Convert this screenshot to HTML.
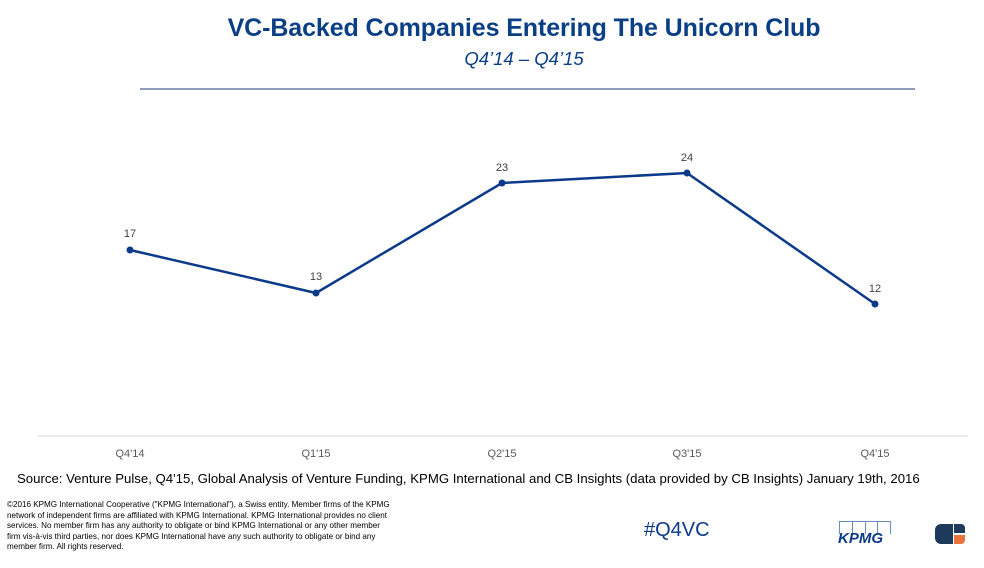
<!DOCTYPE html>
<html><head><meta charset="utf-8"><style>
body{margin:0;width:984px;height:568px;background:#fff;overflow:hidden;font-family:"Liberation Sans",Arial,sans-serif;position:relative}
.t{position:absolute;left:0;width:1048px;text-align:center;color:#0a3f86}
</style></head><body>
<div class="t" style="top:14px;font-size:25px;font-weight:bold;letter-spacing:-0.1px">VC-Backed Companies Entering The Unicorn Club</div>
<div class="t" style="top:48px;font-size:18.5px;font-style:italic">Q4’14 – Q4’15</div>
<div style="position:absolute;left:140px;top:88px;width:775px;height:2px;background:#8e9cba"></div>
<svg width="984" height="568" style="position:absolute;left:0;top:0">
<line x1="38" y1="436" x2="968" y2="436" stroke="#d9d9d9" stroke-width="1"/>
<polyline points="130,250 316,293 502,183 687,173 875,304" fill="none" stroke="#0c3a8a" stroke-width="2.5"/>
<g fill="#0c3a8a"><circle cx="130" cy="250" r="3.5"/><circle cx="316" cy="293" r="3.5"/><circle cx="502" cy="183" r="3.5"/><circle cx="687" cy="173" r="3.5"/><circle cx="875" cy="304" r="3.5"/></g>
<g font-size="11" fill="#404040" text-anchor="middle" font-family="Liberation Sans,sans-serif">
<text x="130" y="237">17</text><text x="316" y="280">13</text><text x="502" y="171">23</text><text x="687" y="161">24</text><text x="875" y="292">12</text>
</g>
<g font-size="11" fill="#595959" text-anchor="middle" font-family="Liberation Sans,sans-serif">
<text x="130" y="457">Q4'14</text><text x="316" y="457">Q1'15</text><text x="502" y="457">Q2'15</text><text x="687" y="457">Q3'15</text><text x="875" y="457">Q4'15</text>
</g>
</svg>
<div style="position:absolute;left:17px;top:471px;font-size:13.2px;color:#000;white-space:nowrap">Source: Venture Pulse, Q4'15, Global Analysis of Venture Funding, KPMG International and CB Insights (data provided by CB Insights) January 19th, 2016</div>
<div style="position:absolute;left:7px;top:500px;font-size:8.1px;line-height:10.5px;color:#000;white-space:nowrap">©2016 KPMG International Cooperative ("KPMG International"), a Swiss entity. Member firms of the KPMG<br>network of independent firms are affiliated with KPMG International. KPMG International provides no client<br>services. No member firm has any authority to obligate or bind KPMG International or any other member<br>firm vis-à-vis third parties, nor does KPMG International have any such authority to obligate or bind any<br>member firm. All rights reserved.</div>
<div style="position:absolute;left:644px;top:519px;font-size:20px;color:#0c3a8a">#Q4VC</div>
<div style="position:absolute;left:839px;top:521px;width:50px;height:12px;border:1px solid #6a8cc0;border-bottom:none;display:flex"><span style="flex:1;border-right:1px solid #6a8cc0"></span><span style="flex:1;border-right:1px solid #6a8cc0"></span><span style="flex:1;border-right:1px solid #6a8cc0"></span><span style="flex:1"></span></div>
<div style="position:absolute;left:838px;top:530px;font-size:15px;font-weight:bold;font-style:italic;color:#0c3a8a">KPMG</div>
<div style="position:absolute;left:935px;top:524px;width:18px;height:20px;background:#1d3a5c;border-radius:6px 0 0 6px"></div>
<div style="position:absolute;left:954px;top:524px;width:11px;height:9px;background:#1d3a5c;border-radius:0 4px 0 0"></div>
<div style="position:absolute;left:954px;top:535px;width:11px;height:9px;background:#e8743b;border-radius:0 0 4px 0"></div>
</body></html>
